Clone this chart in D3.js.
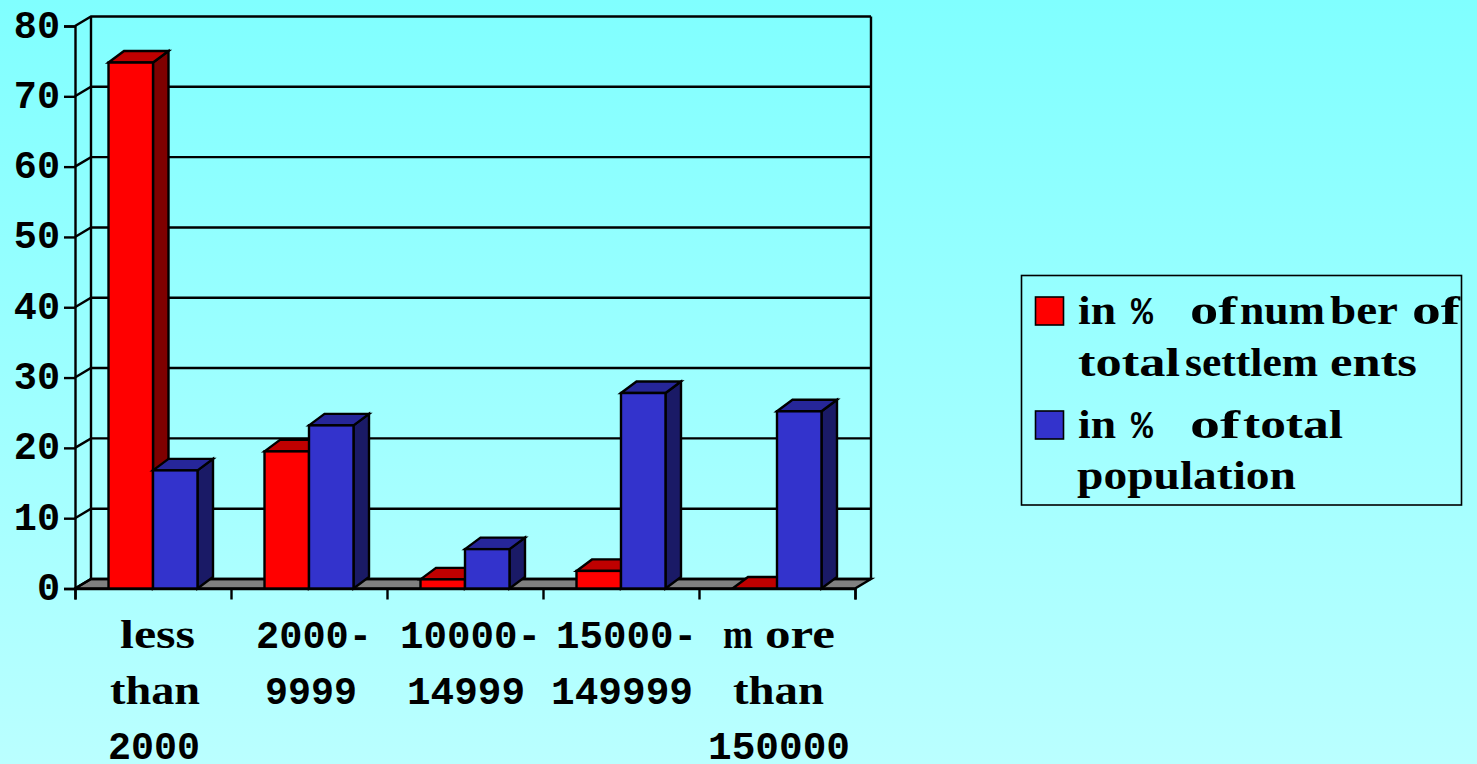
<!DOCTYPE html>
<html>
<head>
<meta charset="utf-8">
<script src="https://cdn.jsdelivr.net/npm/d3@7/dist/d3.min.js"></script>
<style>
html,body{margin:0;padding:0;background:#9fffff;overflow:hidden}
svg{display:block}
text{fill:#000;white-space:pre}
.mono{font-family:"Liberation Mono","DejaVu Sans Mono",monospace;font-weight:700}
.slab{font-family:"Liberation Serif",serif;font-weight:700}
</style>
</head>
<body>
<svg id="chart" width="1477" height="764"></svg>
<script>
// Settlement size classes and the two percentage series
const categories = ["less than 2000", "2000-9999", "10000-14999", "15000-149999", "more than 150000"];
const settlementsShare = [74.8, 19.5, 1.3, 2.5, 0];
const populationShare = [16.8, 23.2, 5.6, 27.8, 25.2];
const seriesNames = ["in % of number of total settlements", "in % of total population"];
const yTicks = [0, 10, 20, 30, 40, 50, 60, 70, 80];

// Wrapped label runs: [text, ink start, ink end]
const categoryLines = [
  [[["less", 120, 195]], [["than", 110, 200]], [["2000", 108, 200]]],
  [[["2000-", 256, 372]], [["9999", 265, 357]]],
  [[["10000-", 400, 541]], [["14999", 407, 525]]],
  [[["15000-", 556, 697]], [["149999", 551, 693]]],
  [[["m", 723, 753], ["ore", 765, 835]], [["than", 733, 824]], [["150000", 708, 850]]]
];
const legendLines = [
  [[["in ", 1078, 1116], ["% ", 1131, 1153], ["of ", 1190, 1237], ["num", 1240, 1325], ["ber ", 1330, 1398], ["of", 1412, 1460]],
   [["total ", 1078, 1180], ["settlem", 1185, 1318], ["ents", 1330, 1417]]],
  [[["in ", 1078, 1116], ["% ", 1131, 1153], ["of ", 1190, 1240], ["total", 1243, 1343]],
   [["population", 1077, 1296]]]
];

const svg = d3.select("#chart");
const FONT = 38.5, SLAB_FONT = 41;
const FRONT = {left: 75, right: 855, bottom: 588.5, top: 26};
const WALL = {dx: 16, dy: 9.5};
const BAR = {dx: 15.5, dy: 11.5};
const INK = 2.4;

const defs = svg.append("defs");
const grad = defs.append("linearGradient").attr("id", "sky")
  .attr("x1", 0).attr("y1", 0).attr("x2", 0).attr("y2", 1);
grad.append("stop").attr("offset", 0).attr("stop-color", "#80ffff");
grad.append("stop").attr("offset", 1).attr("stop-color", "#baffff");
svg.append("rect").attr("width", 1477).attr("height", 764).attr("fill", "url(#sky)");

const y = d3.scaleLinear().domain([0, 80]).range([FRONT.bottom, FRONT.top]);
const x0 = d3.scaleBand().domain(categories).range([FRONT.left, FRONT.right])
  .paddingInner(0.4295).paddingOuter(0.2148);
const x1 = d3.scaleBand().domain([0, 1]).range([0, x0.bandwidth()]);
const xEdge = d3.scaleLinear().domain([0, categories.length]).range([FRONT.left, FRONT.right]);

const line = (pts) => "M" + pts.map(p => p.join(",")).join("L");
const poly = (pts) => line(pts) + "Z";

// Floor of the 3D box
svg.append("path")
  .attr("d", poly([[FRONT.left, FRONT.bottom], [FRONT.left + WALL.dx, FRONT.bottom - WALL.dy],
                   [FRONT.right + WALL.dx, FRONT.bottom - WALL.dy], [FRONT.right, FRONT.bottom]]))
  .attr("fill", "#808080").attr("stroke", "#000").attr("stroke-width", INK);

// Gridlines wrap from the side wall onto the back wall
svg.append("g").selectAll("path").data(yTicks).join("path")
  .attr("fill", "none").attr("stroke", "#000").attr("stroke-width", INK)
  .attr("d", d => line([[FRONT.left, y(d)], [FRONT.left + WALL.dx, y(d) - WALL.dy],
                        [FRONT.right + WALL.dx, y(d) - WALL.dy]]));

// Back wall uprights
[FRONT.left + WALL.dx, FRONT.right + WALL.dx].forEach(px => {
  svg.append("line").attr("x1", px).attr("x2", px)
    .attr("y1", y(80) - WALL.dy).attr("y2", y(0) - WALL.dy)
    .attr("stroke", "#000").attr("stroke-width", INK);
});

// Axes on the front plane
const yAxis = svg.append("g").attr("transform", `translate(${FRONT.left},0)`)
  .call(d3.axisLeft(y).tickValues(yTicks).tickSize(11).tickFormat(""));
const xAxis = svg.append("g").attr("transform", `translate(0,${FRONT.bottom})`)
  .call(d3.axisBottom(xEdge).tickValues(d3.range(categories.length + 1)).tickSize(11).tickFormat(""));
[yAxis, xAxis].forEach(g => g.selectAll("path,line").attr("stroke", "#000").attr("stroke-width", INK));

svg.append("g").selectAll("text").data(yTicks).join("text")
  .attr("class", "mono")
  .attr("x", 60).attr("y", d => y(d) + 11.5).attr("text-anchor", "end")
  .attr("font-size", FONT).text(d => d);

// Extruded bars: right side, top, then front face
const palette = [
  {front: "#ff0000", top: "#bf0000", side: "#7f0000"},
  {front: "#3333cc", top: "#262699", side: "#1a1a66"}
];
const barLayer = svg.append("g").attr("stroke", "#000").attr("stroke-width", INK).attr("stroke-linejoin", "miter");
categories.forEach((c, i) => {
  [settlementsShare[i], populationShare[i]].forEach((v, s) => {
    const l = x0(c) + x1(s), r = l + x1.bandwidth(), t = y(v), b = y(0), col = palette[s];
    barLayer.append("path").attr("fill", col.side)
      .attr("d", poly([[r, b], [r + BAR.dx, b - BAR.dy], [r + BAR.dx, t - BAR.dy], [r, t]]));
    barLayer.append("path").attr("fill", col.top)
      .attr("d", poly([[l, t], [l + BAR.dx, t - BAR.dy], [r + BAR.dx, t - BAR.dy], [r, t]]));
    barLayer.append("rect").attr("fill", col.front)
      .attr("x", l).attr("y", t).attr("width", r - l).attr("height", b - t);
  });
});

// Places one line of runs, stretching each word to its measured width.
// Words use the serif bold, figures and symbols the monospaced bold.
function drawRuns(parent, runs, baseline) {
  const t = parent.append("text").attr("y", baseline);
  runs.forEach(([txt, a, b]) => {
    const cls = /[a-z]/.test(txt) ? "slab" : "mono";
    const size = cls === "slab" ? SLAB_FONT : FONT;
    const word = txt.trimEnd();
    const span = t.append("tspan").attr("class", cls).attr("font-size", size)
      .attr("x", a).text(word);
    if (txt.length > 1 || cls === "slab") {
      span.attr("textLength", b - a).attr("lengthAdjust", "spacingAndGlyphs");
    }
    // Keep the word break in the text content without giving it any width
    if (word !== txt) t.append("tspan").attr("font-size", 0).text(" ");
  });
}

const catBaselines = [648, 704, 759];
const catLabels = svg.append("g");
categoryLines.forEach(lines => lines.forEach((runs, k) => drawRuns(catLabels, runs, catBaselines[k])));

// Legend
const legend = svg.append("g");
legend.append("rect").attr("x", 1021.5).attr("y", 275.5).attr("width", 440).attr("height", 229.5)
  .attr("fill", "none").attr("stroke", "#000").attr("stroke-width", 1.6);
const swatchY = [297, 411];
const legendBaselines = [[324, 376], [438, 489]];
seriesNames.forEach((name, s) => {
  legend.append("rect").attr("x", 1035.5).attr("y", swatchY[s]).attr("width", 28).attr("height", 28)
    .attr("fill", palette[s].front).attr("stroke", "#000").attr("stroke-width", 1.6);
  legendLines[s].forEach((runs, k) => drawRuns(legend, runs, legendBaselines[s][k]));
});
</script>
</body>
</html>
